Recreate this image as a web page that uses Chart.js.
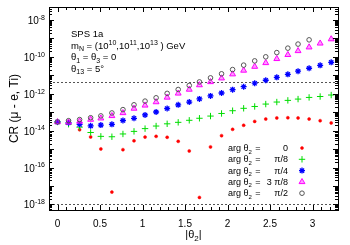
<!DOCTYPE html>
<html>
<head>
<meta charset="utf-8">
<script src="https://cdn.jsdelivr.net/npm/chart.js@4"></script>
<style>
  html, body { margin: 0; padding: 0; background: #fff; }
  #wrap { width: 350px; height: 245px; }
</style>
</head>
<body>
<div id="wrap"><canvas id="c" width="350" height="245"></canvas></div>
<script>
'use strict';

// ── Data (log10 of CR) ───────────────────────────────────────────────
const thetaAbs = [0, 0.13, 0.26, 0.39, 0.51, 0.64, 0.77, 0.9, 1.03, 1.16, 1.29, 1.42, 1.55,
                  1.67, 1.8, 1.93, 2.06, 2.19, 2.32, 2.45, 2.58, 2.71, 2.83, 2.96, 3.09, 3.22];

const logCR_0 = [-13.53, -13.57, -13.95, -14.34, -14.99, -17.33, -15.03, -14.55, -14.35, -14.31, -14.36, -14.58, -15.1,
                 -17.62, -14.88, -14.27, -13.93, -13.71, -13.5, -13.37, -13.31, -13.3, -13.31, -13.37, -13.46, -13.58];
const logCR_pi8 = [-13.53, -13.65, -13.81, -14.1, -14.31, -14.33, -14.18, -14.04, -13.89, -13.75, -13.63, -13.55, -13.44,
                   -13.33, -13.21, -13.07, -12.92, -12.79, -12.69, -12.56, -12.45, -12.36, -12.29, -12.2, -12.15, -12.07];
const logCR_pi4 = [-13.53, -13.57, -13.66, -13.74, -13.7, -13.66, -13.45, -13.33, -13.15, -12.99, -12.8, -12.6, -12.45,
                   -12.28, -12.12, -11.96, -11.78, -11.62, -11.43, -11.27, -11.11, -10.95, -10.78, -10.62, -10.46, -10.3];
const logCR_3pi8 = [-13.53, -13.55, -13.5, -13.4, -13.33, -13.2, -13.04, -12.8, -12.63, -12.45, -12.2, -11.98, -11.77,
                    -11.53, -11.36, -11.16, -10.94, -10.74, -10.53, -10.33, -10.11, -9.89, -9.68, -9.48, -9.27, -9.04];
const logCR_pi2 = [-13.53, -13.46, -13.4, -13.3, -13.2, -13.04, -12.86, -12.6, -12.4, -12.22, -11.98, -11.77, -11.55,
                   -11.36, -11.14, -10.92, -10.69, -10.45, -10.22, -10.0, -9.77, -9.53, -9.31, -9.08];

const argLabels  = ['0', 'π/8', 'π/4', '3 π/8', 'π/2'];
const xTickVals  = [0, 0.5, 1, 1.5, 2, 2.5, 3];
const yTickExps  = [-18, -16, -14, -12, -10, -8];
const boundLevels = [Math.log10(4.3e-12), -18];   // present limit, future sensitivity

const FONT = '"Liberation Sans", Arial, Helvetica, sans-serif';

// ── Rich text helper (sub/superscripts) ──────────────────────────────
function partsWidth(ctx, parts, size) {
  let w = 0;
  for (const [t, m] of parts) {
    ctx.font = `${m ? Math.round(size * 0.7) : size}px ${FONT}`;
    w += ctx.measureText(t).width;
  }
  return w;
}

function drawRich(ctx, parts, x, y, size, align) {
  const w = partsWidth(ctx, parts, size);
  let cx = align === 'right' ? x - w : align === 'center' ? x - w / 2 : x;
  ctx.textAlign = 'left';
  ctx.textBaseline = 'alphabetic';
  for (const [t, m] of parts) {
    const s = m ? Math.round(size * 0.7) : size;
    ctx.font = `${s}px ${FONT}`;
    const dy = m === 1 ? -size * 0.42 : m === -1 ? size * 0.28 : 0;
    ctx.fillText(t, cx, y + dy);
    cx += ctx.measureText(t).width;
  }
}

// ── Frame, ticks, labels, legend ─────────────────────────────────────
const decorPlugin = {
  id: 'decor',
  beforeDatasetsDraw(chart) {
    const { ctx, chartArea: a, scales: { y } } = chart;
    ctx.save();
    ctx.strokeStyle = '#555';
    ctx.lineWidth = 1;
    ctx.setLineDash([2, 2]);
    for (const lv of boundLevels) {
      const py = Math.round(y.getPixelForValue(lv)) + 0.5;
      ctx.beginPath();
      ctx.moveTo(a.left, py);
      ctx.lineTo(a.right, py);
      ctx.stroke();
    }
    ctx.restore();
  },
  afterDatasetsDraw(chart) {
    const { ctx, chartArea: a, scales: { x, y } } = chart;
    ctx.save();
    ctx.strokeStyle = '#000';
    ctx.lineWidth = 1;
    ctx.strokeRect(a.left + 0.5, a.top + 0.5, a.right - a.left, a.bottom - a.top);

    // x ticks (minor every 0.1)
    ctx.beginPath();
    for (let i = -1; i <= 33; i++) {
      const px = Math.round(x.getPixelForValue(i / 10)) + 0.5;
      if (px < a.left || px > a.right) continue;
      const len = i % 5 === 0 ? 5 : 3;
      ctx.moveTo(px, a.bottom); ctx.lineTo(px, a.bottom - len);
      ctx.moveTo(px, a.top); ctx.lineTo(px, a.top + len);
    }
    // y ticks (log minors)
    for (let n = -19; n <= -7; n++) {
      for (let m = 1; m <= 9; m++) {
        const v = n + Math.log10(m);
        if (v < y.min || v > y.max) continue;
        const py = Math.round(y.getPixelForValue(v)) + 0.5;
        const len = m === 1 ? 5 : 3;
        ctx.moveTo(a.left, py); ctx.lineTo(a.left + len, py);
        ctx.moveTo(a.right, py); ctx.lineTo(a.right - len, py);
      }
    }
    ctx.stroke();

    ctx.fillStyle = '#000';
    // y tick labels 10^n
    for (const e of yTickExps) {
      const py = y.getPixelForValue(e);
      drawRich(ctx, [['10', 0], [String(e), 1]], 45, py + 4, 10, 'right');
    }

    // axis titles
    drawRich(ctx, [['|θ', 0], ['2', -1], ['|', 0]], (a.left + a.right) / 2, 238, 11, 'center');
    ctx.save();
    ctx.translate(18, (a.top + a.bottom) / 2);
    ctx.rotate(-Math.PI / 2);
    drawRich(ctx, [['CR (μ - e, Ti)', 0]], 0, 0, 12, 'center');
    ctx.restore();

    // annotation block
    const ax = 71;
    drawRich(ctx, [['SPS 1a', 0]], ax, 37, 9.5, 'left');
    drawRich(ctx, [['m', 0], ['N', -1], [' = (10', 0], ['10', 1], [',10', 0], ['11', 1], [',10', 0], ['13', 1], [' ) GeV', 0]], ax, 48.5, 9.5, 'left');
    drawRich(ctx, [['θ', 0], ['1', -1], [' = θ', 0], ['3', -1], [' = 0', 0]], ax, 60, 9.5, 'left');
    drawRich(ctx, [['θ', 0], ['13', -1], [' = 5°', 0]], ax, 71.5, 9.5, 'left');

    // legend
    chart.data.datasets.forEach((ds, i) => {
      const by = 151 + i * 11.3;
      ctx.fillStyle = '#000';
      drawRich(ctx, [['arg θ', 0], ['2', -1]], 228, by, 9, 'left');
      drawRich(ctx, [['=', 0]], 258, by, 9, 'center');
      drawRich(ctx, [[argLabels[i], 0]], 288, by, 9, 'right');
      ctx.save();
      ctx.fillStyle = ds.backgroundColor;
      ctx.strokeStyle = ds.borderColor;
      ctx.lineWidth = ds.borderWidth;
      Chart.helpers.drawPoint(ctx, { pointStyle: ds.pointStyle, radius: ds.pointRadius, rotation: 0, borderWidth: ds.borderWidth }, 302, by - 3);
      ctx.restore();
    });
    ctx.restore();
  }
};

// ── Datasets ─────────────────────────────────────────────────────────
function series(label, values, style, order) {
  return {
    label,
    data: values.map((v, i) => ({ x: thetaAbs[i], y: v })),
    showLine: false,
    order,
    ...style,
  };
}

const datasets = [
  series('0', logCR_0, { pointStyle: 'circle', pointRadius: 1.5, backgroundColor: '#ff0000', borderColor: '#ff0000', borderWidth: 0.5 }, 5),
  series('π/8', logCR_pi8, { pointStyle: 'cross', pointRadius: 3.2, backgroundColor: '#00dd00', borderColor: '#00dd00', borderWidth: 1 }, 4),
  series('π/4', logCR_pi4, { pointStyle: 'star', pointRadius: 3, backgroundColor: '#0000ff', borderColor: '#0000ff', borderWidth: 1.3 }, 3),
  series('3π/8', logCR_3pi8, { pointStyle: 'triangle', pointRadius: 3.4, backgroundColor: 'rgba(255,0,255,0.4)', borderColor: '#ff00ff', borderWidth: 1 }, 2),
  series('π/2', logCR_pi2, { pointStyle: 'circle', pointRadius: 2.3, backgroundColor: 'rgba(0,0,0,0)', borderColor: '#555555', borderWidth: 1 }, 1),
];

new Chart(document.getElementById('c'), {
  type: 'scatter',
  data: { datasets },
  options: {
    responsive: false,
    animation: false,
    events: [],
    layout: { padding: { left: 49, right: 12, top: 7, bottom: 0 } },
    plugins: { legend: { display: false }, tooltip: { enabled: false } },
    scales: {
      x: {
        min: -0.1, max: 3.3,
        grid: { display: false, drawTicks: false },
        border: { display: false },
        ticks: {
          font: { family: FONT, size: 10 }, color: '#000', padding: 8,
          maxRotation: 0, autoSkip: false,
          callback: v => String(v),
        },
        afterBuildTicks: s => { s.ticks = xTickVals.map(v => ({ value: v })); },
        afterFit: s => { s.height = 35; },
      },
      y: {
        display: false,
        min: -18.3, max: -7.3,
      },
    },
  },
  plugins: [decorPlugin],
});
</script>
</body>
</html>
